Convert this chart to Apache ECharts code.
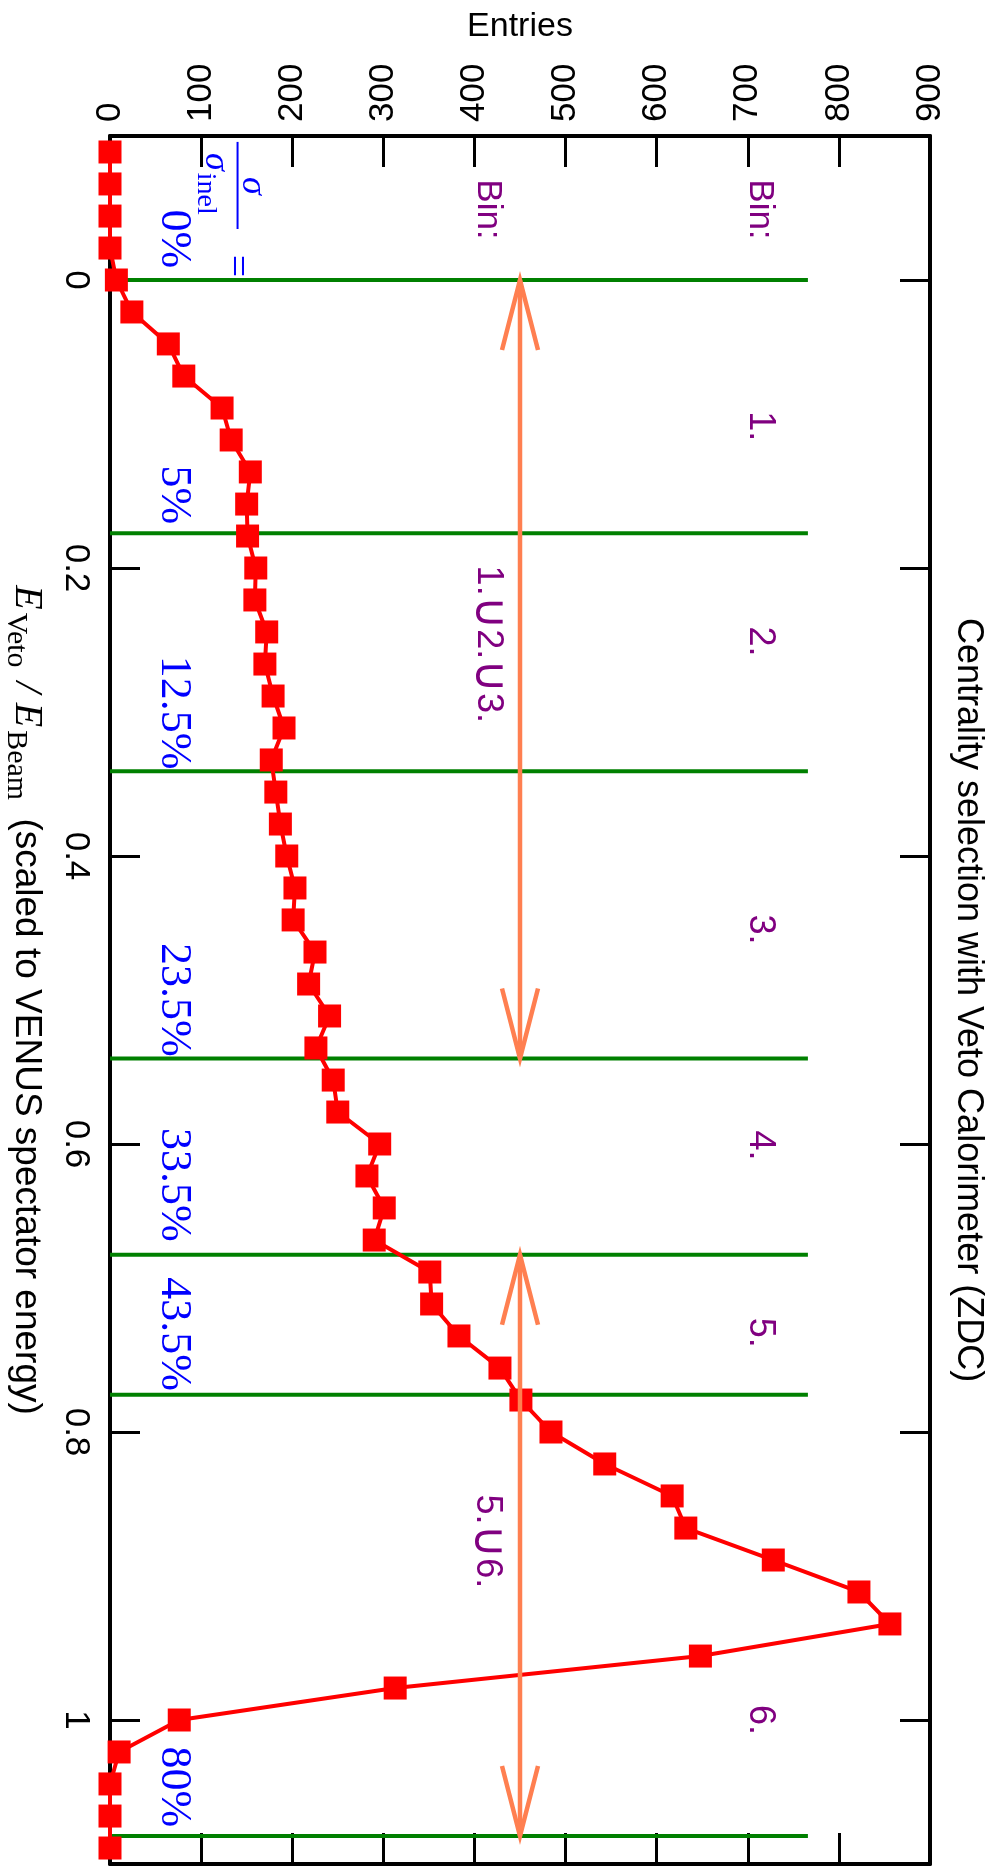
<!DOCTYPE html>
<html><head><meta charset="utf-8">
<script src="https://cdn.jsdelivr.net/npm/echarts@6/dist/echarts.min.js"></script>
<style>html,body{margin:0;padding:0;background:#fff}#c{width:994px;height:1872px}</style>
</head><body><div id="c"></div>
<script>
// ---- data ----
const binCenters = [-0.0889,-0.0667,-0.0444,-0.0222,0.0000,0.0222,0.0444,0.0667,0.0889,0.1111,
  0.1333,0.1556,0.1778,0.2000,0.2222,0.2444,0.2667,0.2889,0.3111,0.3333,
  0.3556,0.3778,0.4000,0.4222,0.4444,0.4667,0.4889,0.5111,0.5333,0.5556,
  0.5778,0.6000,0.6222,0.6444,0.6667,0.6889,0.7111,0.7333,0.7556,0.7778,
  0.8000,0.8222,0.8444,0.8667,0.8889,0.9111,0.9333,0.9556,0.9778,1.0000,
  1.0222,1.0444,1.0667,1.0889];
const entries = [0,0,0,0,7,24,64,81,123,133,
  154,150,151,160,159,172,170,179,191,177,
  182,187,194,203,201,225,218,241,226,245,
  250,296,282,301,290,351,353,383,428,451,
  484,543,617,632,728,822,856,648,313,76,
  10,0,0,0];
const entriesRange = [0, 900];
const entriesInterval = 100;
const eRange = [-0.1, 1.1];
const cutValues = [0, 0.1758, 0.3412, 0.5406, 0.6769, 0.7741, 1.0806];
const cutLineEnd = 766;
const cutLabels = ['0%','5%','12.5%','23.5%','33.5%','43.5%','80%'];
const cutLabelEnds = [-0.0083, 0.1696, 0.3398, 0.5393, 0.6678, 0.7714, 1.0744];
const cutLabelX = 70;
const arrows = [[450, 0, 0.5406], [450, 0.6769, 1.0806]];
const binLabels = ['1.','2.','3.','4.','5.','6.'];
const binLabelE = [0.1015, 0.251, 0.451, 0.601, 0.731, 1.0];
const binLabelX = 713;
const headerLabels = [['Bin:', 415, -0.049], ['Bin:', 713, -0.049]];
const unionLabels = [['1.\u222A2.\u222A3.', 415, 0.253], ['5.\u222A6.', 414, 0.876]];
const fracNum = [156, -0.0653];
const fracBar = [140, -0.0959, -0.0354];
const fracDen = [112, -0.0667];
const fracEq = [138, -0.0097];

const SANS = 'Liberation Sans, Arial, Helvetica, sans-serif';
const SERIF = 'Liberation Serif, Times New Roman, serif';
const RED = '#ff0000', GREEN = '#008000', ORANGE = '#ff7f50', PURPLE = '#800080', BLUE = '#0000ff';

const chart = echarts.init(document.getElementById('c'), null, {renderer: 'canvas'});

function textSeries(items, styleFn) {
  return {
    type: 'custom', coordinateSystem: 'cartesian2d', silent: true, clip: false, z: 6,
    data: items.map(d => [d[1], d[2]]),
    renderItem(params, api) {
      const p = api.coord([api.value(0), api.value(1)]);
      const it = items[params.dataIndex];
      return {type: 'text', x: p[0], y: p[1], rotation: -Math.PI / 2, style: styleFn(it[0])};
    }
  };
}

const axisCommon = {
  axisLine: {show: true, onZero: false, lineStyle: {color: '#000', width: 4}},
  axisTick: {show: true, inside: true, lineStyle: {color: '#000', width: 3}},
  splitLine: {show: false}
};

const option = {
  animation: false,
  backgroundColor: '#fff',
  grid: {left: 110, right: 64, top: 136, bottom: 8, outerBoundsMode: 'none', containLabel: false},
  xAxis: [
    Object.assign({}, axisCommon, {
      type: 'value', position: 'top', min: entriesRange[0], max: entriesRange[1], interval: entriesInterval,
      axisTick: {show: true, inside: true, length: 31, lineStyle: {color: '#000', width: 3}},
      axisLabel: {show: true, rotate: -90, margin: 14, fontSize: 35, fontFamily: SANS, color: '#000'},
      name: 'Entries', nameLocation: 'middle', nameGap: 92,
      nameTextStyle: {fontSize: 34, fontFamily: SANS, color: '#000'}
    }),
    Object.assign({}, axisCommon, {
      type: 'value', position: 'bottom', min: entriesRange[0], max: entriesRange[1], interval: entriesInterval,
      axisTick: {show: true, inside: true, length: 31, lineStyle: {color: '#000', width: 3}},
      axisLabel: {show: false}
    })
  ],
  yAxis: [
    Object.assign({}, axisCommon, {
      type: 'value', position: 'left', inverse: true, min: eRange[0], max: eRange[1], splitNumber: 6,
      axisTick: {show: true, inside: true, length: 30, lineStyle: {color: '#000', width: 3}},
      axisLabel: {show: true, rotate: -90, margin: 17, fontSize: 35, fontFamily: SANS, color: '#000',
        showMinLabel: false, showMaxLabel: false,
        formatter: v => (v < -0.001 || v > 1.001) ? '' : String(+v.toFixed(2))},
      name: '{E|E}{sub|Veto}{sl|/}{E|E}{sub|Beam}{t| (scaled to VENUS spectator energy)}',
      nameLocation: 'middle', nameRotate: -90, nameGap: 63,
      nameTextStyle: {
        color: '#000',
        rich: {
          E: {fontSize: 40, fontFamily: SERIF, fontStyle: 'italic', color: '#000', verticalAlign: 'bottom', padding: [0, 3, 6, 0]},
          sub: {fontSize: 30, fontFamily: SERIF, color: '#000', verticalAlign: 'bottom', padding: [0, 8, 0, 0]},
          sl: {fontSize: 40, fontFamily: SERIF, fontStyle: 'italic', color: '#000', verticalAlign: 'bottom', padding: [0, 10, 6, 6]},
          t: {fontSize: 37, fontFamily: SANS, color: '#000', verticalAlign: 'bottom', padding: [0, 0, 7, 0]}
        }
      }
    }),
    Object.assign({}, axisCommon, {
      type: 'value', position: 'right', inverse: true, min: eRange[0], max: eRange[1], splitNumber: 6,
      axisTick: {show: true, inside: true, length: 30, lineStyle: {color: '#000', width: 3}},
      axisLabel: {show: false},
      name: 'Centrality selection with Veto Calorimeter (ZDC)',
      nameLocation: 'middle', nameRotate: -90, nameGap: 20,
      nameTextStyle: {fontSize: 36, fontFamily: SANS, color: '#000'}
    })
  ],
  series: [
    { // cut lines
      type: 'custom', coordinateSystem: 'cartesian2d', silent: true, clip: false, z: 2,
      data: cutValues.map(v => [0, v]),
      renderItem(params, api) {
        const e = api.value(1);
        const p1 = api.coord([entriesRange[0], e]);
        const p2 = api.coord([cutLineEnd, e]);
        return {type: 'line', shape: {x1: p1[0], y1: p1[1], x2: p2[0], y2: p2[1]}, style: {stroke: GREEN, lineWidth: 4}};
      }
    },
    { // distribution
      type: 'line', data: binCenters.map((e, i) => [entries[i], e]),
      symbol: 'rect', symbolSize: 23, showAllSymbol: true, clip: false, z: 3,
      itemStyle: {color: RED}, lineStyle: {color: RED, width: 4}, silent: true
    },
    { // double arrows
      type: 'custom', coordinateSystem: 'cartesian2d', silent: true, clip: false, z: 4,
      data: arrows,
      renderItem(params, api) {
        const x = api.value(0), e1 = api.value(1), e2 = api.value(2);
        const p1 = api.coord([x, e1]), p2 = api.coord([x, e2]);
        const hw = 18, hl = 70;
        const st = {stroke: ORANGE, lineWidth: 4.5, fill: null, lineJoin: 'miter'};
        return {type: 'group', children: [
          {type: 'line', shape: {x1: p1[0], y1: p1[1], x2: p2[0], y2: p2[1]}, style: st},
          {type: 'polyline', shape: {points: [[p1[0] - hw, p1[1] + hl], [p1[0], p1[1]], [p1[0] + hw, p1[1] + hl]]}, style: st},
          {type: 'polyline', shape: {points: [[p2[0] - hw, p2[1] - hl], [p2[0], p2[1]], [p2[0] + hw, p2[1] - hl]]}, style: st}
        ]};
      }
    },
    textSeries(headerLabels, t => ({text: t, fill: PURPLE, fontSize: 35, fontFamily: SANS, align: 'center', verticalAlign: 'middle'})),
    textSeries(binLabels.map((t, i) => [t, binLabelX, binLabelE[i]]), t => ({text: t, fill: PURPLE, fontSize: 36, fontFamily: SANS, align: 'center', verticalAlign: 'middle'})),
    textSeries(unionLabels, t => ({text: t.replace(/\u222A/g, '{c|\u222A}'), fill: PURPLE, fontSize: 36, fontFamily: SANS, align: 'center', verticalAlign: 'middle',
      rich: {c: {fontSize: 46, fontFamily: 'DejaVu Sans', fill: PURPLE, verticalAlign: 'middle'}}})),
    textSeries(cutLabels.map((t, i) => [t, cutLabelX, cutLabelEnds[i]]), t => ({text: t, fill: BLUE, fontSize: 44, fontFamily: SERIF, align: 'right', verticalAlign: 'middle'})),
    textSeries([['\u03C3', fracNum[0], fracNum[1]]], t => ({text: t, fill: BLUE, fontSize: 36, fontFamily: SERIF, fontStyle: 'italic', align: 'center', verticalAlign: 'middle'})),
    textSeries([['{s|\u03C3}{sub|inel}', fracDen[0], fracDen[1]]], t => ({text: t, fill: BLUE, align: 'center', verticalAlign: 'middle',
      rich: {s: {fontSize: 36, fontFamily: SERIF, fontStyle: 'italic', fill: BLUE, verticalAlign: 'bottom', padding: [0, 2, 6, 0]},
             sub: {fontSize: 28, fontFamily: SERIF, fill: BLUE, verticalAlign: 'bottom'}}})),
    textSeries([['=', fracEq[0], fracEq[1]]], t => ({text: t, fill: BLUE, fontSize: 40, fontFamily: SERIF, align: 'center', verticalAlign: 'middle'})),
    { // fraction bar
      type: 'custom', coordinateSystem: 'cartesian2d', silent: true, clip: false, z: 6,
      data: [fracBar],
      renderItem(params, api) {
        const p1 = api.coord([api.value(0), api.value(1)]);
        const p2 = api.coord([api.value(0), api.value(2)]);
        return {type: 'line', shape: {x1: p1[0], y1: p1[1], x2: p2[0], y2: p2[1]}, style: {stroke: BLUE, lineWidth: 2}};
      }
    }
  ]
};
chart.setOption(option);
</script></body></html>
